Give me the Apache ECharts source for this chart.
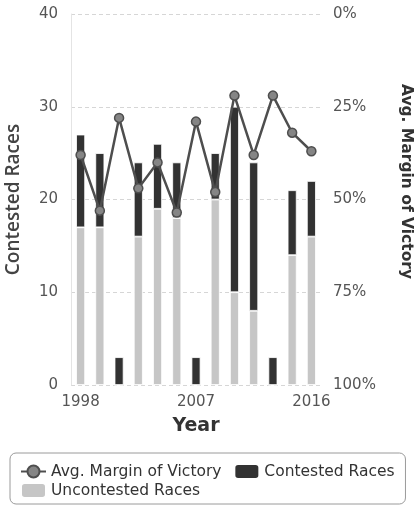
<!DOCTYPE html>
<html>
<head>
<meta charset="utf-8">
<script src="https://cdn.jsdelivr.net/npm/echarts@6/dist/echarts.min.js"></script>
<style>
  html, body { margin: 0; padding: 0; background: #fff; }
  #chart { width: 414px; height: 506px; }
</style>
</head>
<body>
<div id="chart"></div>
<script>
// Election years on the category axis
const years = ['1998', '2000', '2001', '2002', '2004', '2006', '2007', '2008', '2010', '2012', '2013', '2014', '2016'];
// Race counts per election
const uncontested = [17, 17, 0, 16, 19, 18, 0, 20, 10, 8, 0, 14, 16];
const contested = [10, 8, 3, 8, 7, 6, 3, 5, 20, 16, 3, 7, 6];
// Average margin of victory (share, 0..1)
const margin = [0.38, 0.53, 0.28, 0.47, 0.40, 0.535, 0.29, 0.48, 0.22, 0.38, 0.22, 0.32, 0.37];
// Axis ticks
const leftTicks = [0, 10, 20, 30, 40];
const rightTicks = [0, 0.25, 0.5, 0.75, 1];

const FONT = 'DejaVu Sans';
const chart = echarts.init(document.getElementById('chart'), null, { renderer: 'canvas' });

chart.setOption({
  animation: false,
  backgroundColor: '#fff',
  textStyle: { fontFamily: FONT },
  grid: { left: 71, right: 93, top: 14, bottom: 121, containLabel: false, outerBoundsMode: 'none' },
  legend: {
    data: ['Avg. Margin of Victory', 'Contested Races', 'Uncontested Races'],
    left: 10,
    top: 453,
    width: 394,
    orient: 'horizontal',
    itemWidth: 25,
    itemHeight: 15,
    itemGap: 2,
    padding: [10, 1, 5, 10],
    borderColor: '#9a9a9a',
    borderWidth: 1,
    borderRadius: 6,
    // trailing spaces keep the horizontal gap between entries on a row
    formatter: name => name + '  ',
    textStyle: { fontFamily: FONT, fontSize: 15.5, color: '#333' }
  },
  xAxis: {
    type: 'category',
    data: years,
    name: 'Year',
    nameLocation: 'middle',
    nameGap: 32,
    nameTextStyle: { fontFamily: FONT, fontWeight: 'bold', fontSize: 19, color: '#333' },
    axisLine: { show: false },
    axisTick: { show: false },
    axisLabel: { interval: 5, fontFamily: FONT, fontSize: 15, color: '#555', margin: 10 }
  },
  yAxis: [
    {
      type: 'value',
      min: leftTicks[0],
      max: leftTicks[leftTicks.length - 1],
      interval: 10,
      name: 'Contested Races',
      nameLocation: 'middle',
      nameGap: 48,
      nameTextStyle: { fontFamily: 'Open Sans', fontWeight: 600, fontSize: 19, color: '#444' },
      axisLine: { show: true, lineStyle: { color: '#e4e4e4' } },
      axisTick: { show: false },
      axisLabel: { fontFamily: FONT, fontSize: 15, color: '#555', margin: 13 },
      splitLine: { show: true, lineStyle: { color: '#d6d6d6', type: [4, 3], width: 1 } }
    },
    {
      type: 'value',
      inverse: true,
      min: rightTicks[0],
      max: rightTicks[rightTicks.length - 1],
      interval: 0.25,
      name: 'Avg. Margin of Victory',
      nameLocation: 'middle',
      nameGap: 77,
      nameRotate: -90,
      nameTextStyle: { fontFamily: FONT, fontWeight: 'bold', fontSize: 15.5, color: '#333', padding: [0, 36, 0, 0] },
      axisLine: { show: false },
      axisTick: { show: false },
      axisLabel: {
        fontFamily: FONT, fontSize: 15, color: '#555', margin: 12,
        formatter: v => Math.round(v * 100) + '%'
      },
      splitLine: { show: false }
    }
  ],
  series: [
    {
      name: 'Uncontested Races',
      type: 'bar',
      stack: 'races',
      data: uncontested,
      barWidth: 9,
      itemStyle: { color: '#c6c6c6', borderColor: '#fff', borderWidth: 0.8 },
      z: 2
    },
    {
      name: 'Contested Races',
      type: 'bar',
      stack: 'races',
      data: contested,
      barWidth: 9,
      itemStyle: { color: '#323232', borderColor: '#fff', borderWidth: 0.8 },
      z: 2
    },
    {
      name: 'Avg. Margin of Victory',
      type: 'line',
      yAxisIndex: 1,
      data: margin,
      symbol: 'circle',
      symbolSize: 9,
      lineStyle: { color: '#4e4e4e', width: 2.5 },
      itemStyle: { color: '#858585', borderColor: '#4e4e4e', borderWidth: 1.5 },
      z: 5
    }
  ]
});
</script>
</body>
</html>
